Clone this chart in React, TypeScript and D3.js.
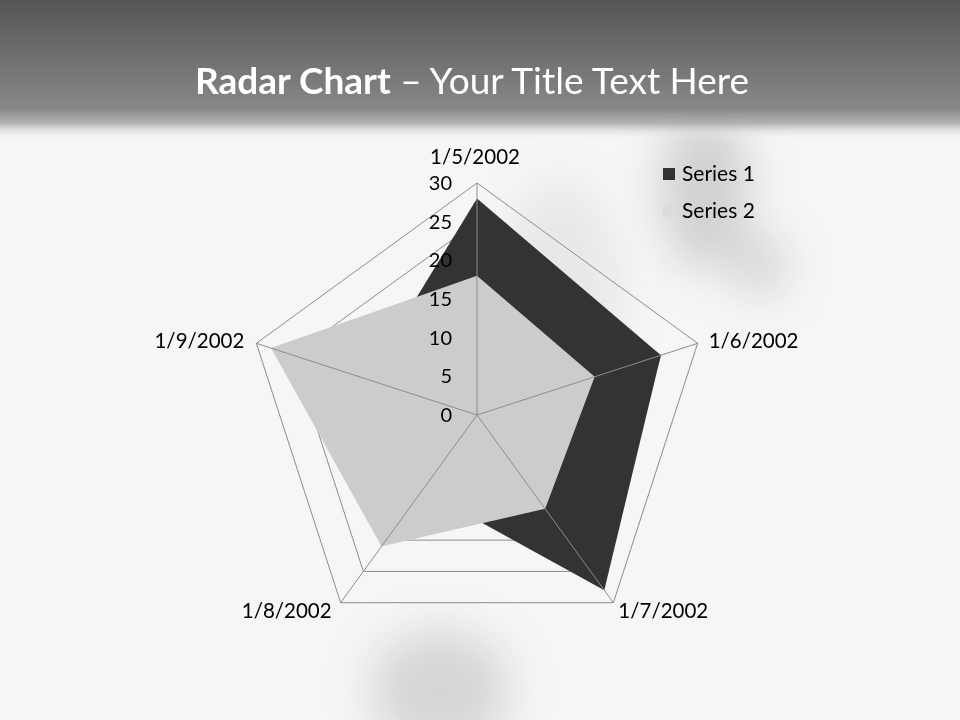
import { useEffect, useRef } from "react";
import * as d3 from "d3";

const CATEGORIES = ["1/5/2002", "1/6/2002", "1/7/2002", "1/8/2002", "1/9/2002"];
const SERIES_1 = [28, 25, 28, 12, 15];
const SERIES_2 = [18, 16, 15, 21, 28];
const TICKS = [0, 5, 10, 15, 20, 25, 30];
const SERIES_NAMES = ["Series 1", "Series 2"];
const SERIES_COLORS = ["#333333", "#cccccc"];

const W = 960;
const H = 720;
const FONT = "Lato, 'Open Sans', sans-serif";

export default function App() {
  const svgRef = useRef<SVGSVGElement>(null);

  useEffect(() => {
    if (!svgRef.current) return;
    const svg = d3.select(svgRef.current);
    svg.selectAll("*").remove();

    const defs = svg.append("defs");
    const hdr = defs.append("linearGradient").attr("id", "hdr").attr("x1", 0).attr("y1", 0).attr("x2", 0).attr("y2", 1);
    hdr.append("stop").attr("offset", "0%").attr("stop-color", "#555555");
    hdr.append("stop").attr("offset", "78%").attr("stop-color", "#888888");
    hdr.append("stop").attr("offset", "88%").attr("stop-color", "#aaaaaa").attr("stop-opacity", 0.9);
    hdr.append("stop").attr("offset", "100%").attr("stop-color", "#f6f6f6").attr("stop-opacity", 0);
    defs.append("filter").attr("id", "blur")
      .attr("filterUnits", "userSpaceOnUse")
      .attr("x", 0).attr("y", 0).attr("width", W).attr("height", H)
      .append("feGaussianBlur").attr("stdDeviation", 22);

    // slide background
    svg.append("rect").attr("width", W).attr("height", H).attr("fill", "#f6f6f6");
    const blobs = svg.append("g").attr("filter", "url(#blur)").attr("fill", "#9a9a9a");
    blobs.append("ellipse").attr("cx", 705).attr("cy", 190).attr("rx", 45).attr("ry", 80).attr("opacity", 0.4);
    blobs.append("ellipse").attr("cx", 760).attr("cy", 265).attr("rx", 25).attr("ry", 30).attr("opacity", 0.4);
    blobs.append("ellipse").attr("cx", 440).attr("cy", 690).attr("rx", 70).attr("ry", 60).attr("opacity", 0.35);
    blobs.append("ellipse").attr("cx", 560).attr("cy", 300).attr("rx", 60).attr("ry", 120).attr("opacity", 0.15);
    svg.append("rect").attr("width", W).attr("height", 140).attr("fill", "url(#hdr)");

    // title
    const title = svg.append("text")
      .attr("x", 472).attr("y", 94)
      .attr("text-anchor", "middle")
      .attr("fill", "#ffffff")
      .attr("font-family", FONT)
      .attr("font-size", 37);
    title.append("tspan").attr("font-weight", "bold").text("Radar Chart");
    title.append("tspan").text(" \u2013 Your Title Text Here");

    const cx = 477, cy = 415;
    const g = svg.append("g").attr("transform", `translate(${cx},${cy})`);

    const r = d3.scaleLinear().domain([0, 30]).range([0, 232]);
    const angle = d3.scaleLinear().domain([0, CATEGORIES.length]).range([0, 2 * Math.PI]);

    const radial = d3.lineRadial<number>()
      .angle((_, i) => angle(i))
      .radius((d) => r(d))
      .curve(d3.curveLinearClosed);

    // gridlines
    TICKS.filter((t) => t > 0).forEach((t) => {
      g.append("path")
        .attr("d", radial(CATEGORIES.map(() => t)))
        .attr("fill", "none")
        .attr("stroke", "#8c8c8c")
        .attr("stroke-width", 1);
    });

    // series areas
    [SERIES_1, SERIES_2].forEach((vals, si) => {
      g.append("path")
        .attr("d", radial(vals))
        .attr("fill", SERIES_COLORS[si])
        .attr("stroke", "none");
    });

    // spokes
    CATEGORIES.forEach((_, i) => {
      const a = angle(i);
      g.append("line")
        .attr("x1", 0).attr("y1", 0)
        .attr("x2", r(30) * Math.sin(a))
        .attr("y2", -r(30) * Math.cos(a))
        .attr("stroke", "#8c8c8c")
        .attr("stroke-width", 1);
    });

    // value ticks
    TICKS.forEach((t) => {
      g.append("text")
        .attr("x", -25)
        .attr("y", -r(t))
        .attr("dy", "0.35em")
        .attr("text-anchor", "end")
        .attr("font-family", FONT)
        .attr("font-size", 20)
        .attr("fill", "#000")
        .text(t);
    });

    // category labels
    CATEGORIES.forEach((c, i) => {
      const a = angle(i);
      const rr = r(30);
      const x = rr * Math.sin(a);
      const y = -rr * Math.cos(a);
      let anchor = "middle", dx = 0, dy = 0;
      if (i === 0) { dy = -26; dx = -2; }
      else if (i === 1) { anchor = "start"; dx = 11; dy = -2; }
      else if (i === 2) { anchor = "start"; dx = 5; dy = 8; }
      else if (i === 3) { anchor = "end"; dx = -9; dy = 8; }
      else { anchor = "end"; dx = -12; dy = -2; }
      g.append("text")
        .attr("x", x + dx)
        .attr("y", y + dy)
        .attr("dy", "0.35em")
        .attr("text-anchor", anchor)
        .attr("font-family", FONT)
        .attr("font-size", 20.5)
        .attr("fill", "#000")
        .text(c);
    });

    // legend
    SERIES_NAMES.forEach((name, i) => {
      const ly = 174 + i * 37;
      svg.append("rect")
        .attr("x", 663).attr("y", ly - 6)
        .attr("width", 12).attr("height", 12)
        .attr("fill", i === 0 ? SERIES_COLORS[0] : "#dcdcdc");
      svg.append("text")
        .attr("x", 682).attr("y", ly)
        .attr("dy", "0.35em")
        .attr("font-family", FONT)
        .attr("font-size", 21)
        .attr("fill", "#000")
        .text(name);
    });
  }, []);

  return (
    <svg
      ref={svgRef}
      width={W}
      height={H}
      style={{ position: "absolute", left: 0, top: 0, display: "block" }}
    />
  );
}
